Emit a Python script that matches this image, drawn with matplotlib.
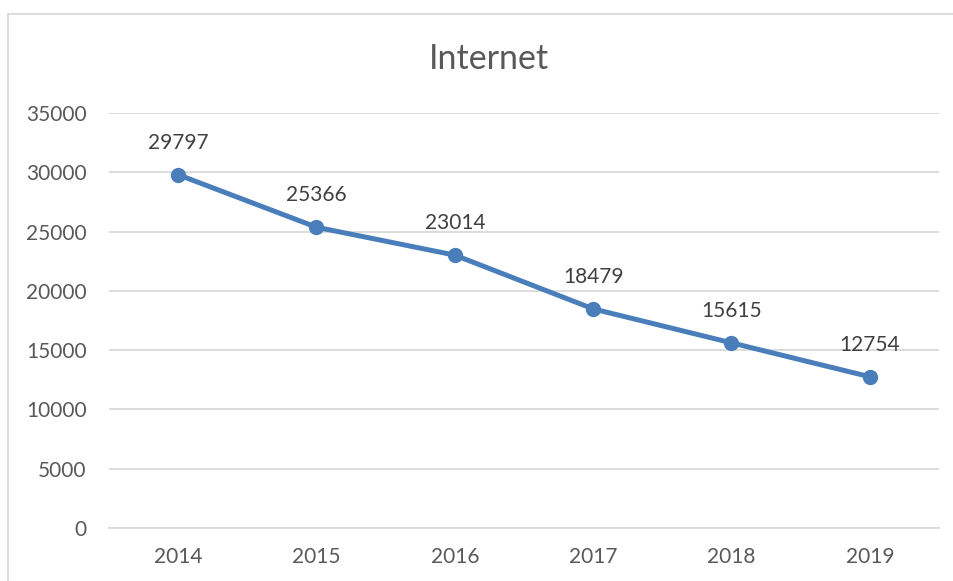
import matplotlib.pyplot as plt
from matplotlib.lines import Line2D

# datos del grafico
years = ['2014', '2015', '2016', '2017', '2018', '2019']
values = [29797, 25366, 23014, 18479, 15615, 12754]
yticks = [0, 5000, 10000, 15000, 20000, 25000, 30000, 35000]

plt.rcParams['font.family'] = ['Lato', 'DejaVu Sans']
txt = '#595959'
azul = '#4a7ebb'

fig = plt.figure(figsize=(9.54, 5.81), dpi=100)
ax = fig.add_axes([109/954, 53/581, 830/954, 415/581])

x = range(len(years))
ax.plot(x, values, color=azul, lw=3.6, marker='o', ms=10, zorder=3,
        solid_capstyle='round')
for i, v in zip(x, values):
    ax.annotate(str(v), (i, v), xytext=(0, 23), textcoords='offset points',
                ha='center', va='center', fontsize=15, color='#404040')

ax.set_xlim(-0.5, len(years) - 0.5)
ax.set_ylim(0, 35000)
ax.set_xticks(list(x))
ax.set_xticklabels(years)
ax.set_yticks(yticks)
ax.tick_params(length=0, labelsize=15, labelcolor=txt)
ax.tick_params(axis='y', pad=16)
ax.tick_params(axis='x', pad=14)
ax.grid(axis='y', color='#d9d9d9', lw=1.3)
ax.set_axisbelow(True)
for s in ['top', 'right', 'left']:
    ax.spines[s].set_visible(False)
ax.spines['bottom'].set_color('#d9d9d9')
ax.spines['bottom'].set_linewidth(1.3)

fig.text(489/954, 1 - 59/581, 'Internet', ha='center', va='center',
         fontsize=24.5, color=txt)

# marco del grafico (solo arriba e izquierda se ven)
fig.add_artist(Line2D([8/954, 8/954], [0, 1 - 14/581], transform=fig.transFigure,
                      color='#d9d9d9', lw=1.3))
fig.add_artist(Line2D([8/954, 1], [1 - 14/581, 1 - 14/581], transform=fig.transFigure,
                      color='#d9d9d9', lw=1.3))

fig.savefig('out.png', dpi=100)
